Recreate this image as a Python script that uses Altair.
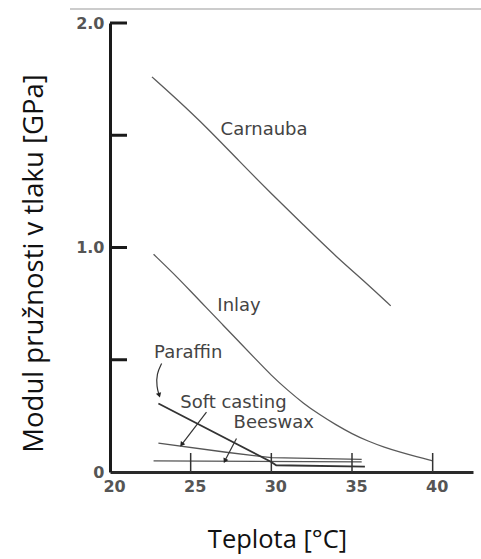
import altair as alt
import pandas as pd

# ---- data ----
carnauba_t = [22.6, 24, 26, 28, 30, 32, 34, 36, 37.4]
carnauba_v = [1.76, 1.67, 1.535, 1.385, 1.24, 1.10, 0.96, 0.835, 0.74]

inlay_t = [22.7, 24, 25, 26, 27, 28, 29, 30, 31, 32, 33, 34, 35, 36, 37, 38, 39, 40]
inlay_v = [0.97, 0.88, 0.805, 0.73, 0.655, 0.58, 0.505, 0.43, 0.365, 0.305,
           0.255, 0.21, 0.17, 0.137, 0.11, 0.088, 0.068, 0.05]

paraffin_t = [23.0, 30.0, 30.3, 35.8]
paraffin_v = [0.305, 0.045, 0.03, 0.024]

soft_t = [23.0, 27.2, 30.0, 35.6]
soft_v = [0.129, 0.088, 0.064, 0.056]

beeswax_t = [22.7, 35.6]
beeswax_v = [0.05, 0.045]

label_text = ["Carnauba", "Inlay", "Paraffin", "Soft casting", "Beeswax"]
label_t = [29.55, 28.0, 24.85, 27.65, 30.15]
label_v = [1.524, 0.740, 0.529, 0.306, 0.219]

arrow_id = ["p", "p", "p", "p", "s", "s", "b", "b"]
arrow_t = [23.2, 22.89, 22.89, 23.05, 25.98, 24.44, 27.84, 27.12]
arrow_v = [0.483, 0.438, 0.379, 0.342, 0.267, 0.122, 0.149, 0.05]

head_t = [23.05, 24.44, 27.12]
head_v = [0.342, 0.122, 0.05]
head_angle = [163, 217, 207]

x_tick_values = [25, 30, 35, 40]
y_tick_values = [0.5, 1.0, 1.5, 2.0]
x_label_values = [20, 25, 30, 35, 40]
y_label_values = [0, 1, 2]

W, H = 363, 449

xs = alt.Scale(domain=[20, 42.5], nice=False, zero=False)
ys = alt.Scale(domain=[0, 2.0], nice=False, zero=True)

xaxis = alt.Axis(
    values=x_label_values, ticks=False, grid=False, domainWidth=3, domainColor="#2a2a2a",
    labelFont="DejaVu Sans", labelFontSize=16, labelFontWeight="bold", labelColor="#555",
    labelPadding=6, labelOffset=4, labelFlush=False,
    title="Teplota [°C]", titleFont="Open Sans", titleFontSize=25.5, titleFontWeight="normal",
    titleColor="#111", titleX=167, titleY=75, titleBaseline="alphabetic", titleAlign="center",
)
yaxis = alt.Axis(
    values=y_label_values, ticks=False, grid=False, domainWidth=3, domainColor="#1a1a1a",
    labelFont="DejaVu Sans", labelFontSize=16, labelFontWeight="bold", labelColor="#555",
    labelPadding=6, labelFlush=False,
    labelExpr="datum.value == 0 ? '0' : format(datum.value, '.1f')",
    title="Modul pružnosti v tlaku [GPa]", titleFont="Open Sans", titleFontSize=27.5,
    titleFontWeight="normal", titleColor="#111", titleAngle=270, titleX=-68, titleY=240,
    titleBaseline="alphabetic", titleAlign="center",
)


def X(field="t"):
    return alt.X(f"{field}:Q", scale=xs, axis=xaxis)


def Y(field="v"):
    return alt.Y(f"{field}:Q", scale=ys, axis=yaxis)


def series(ts, vs):
    return pd.DataFrame({"t": ts, "v": vs})


layers = []
for ts, vs, col, sw, interp in [
    (carnauba_t, carnauba_v, "#5a5a5a", 1.3, "basis"),
    (inlay_t, inlay_v, "#5a5a5a", 1.3, "basis"),
    (soft_t, soft_v, "#555", 1.3, "linear"),
    (beeswax_t, beeswax_v, "#555", 1.3, "linear"),
    (paraffin_t, paraffin_v, "#333", 1.8, "linear"),
]:
    layers.append(
        alt.Chart(series(ts, vs)).mark_line(color=col, strokeWidth=sw, interpolate=interp)
        .encode(x=X(), y=Y(), order="t:Q")
    )

arrows = pd.DataFrame({"id": arrow_id, "t": arrow_t, "v": arrow_v, "o": list(range(len(arrow_t)))})
layers.append(
    alt.Chart(arrows).mark_line(color="#333", strokeWidth=1.2, interpolate="basis")
    .encode(x=X(), y=Y(), detail="id:N", order="o:Q")
)
heads = pd.DataFrame({"t": head_t, "v": head_v, "a": head_angle})
layers.append(
    alt.Chart(heads).mark_point(shape="triangle-up", filled=True, color="#222", size=30, opacity=1)
    .encode(x=X(), y=Y(), angle=alt.Angle("a:Q", scale=None))
)

labels = pd.DataFrame({"text": label_text, "t": label_t, "v": label_v})
layers.append(
    alt.Chart(labels).mark_text(font="DejaVu Sans", fontSize=18, color="#444",
                                align="center", baseline="middle")
    .encode(x=X(), y=Y(), text="text:N")
)

# inward tick marks
layers.append(
    alt.Chart(pd.DataFrame({"t": x_tick_values})).mark_rule(color="#333", strokeWidth=1.5)
    .encode(x=X(), y=alt.value(H), y2=alt.value(H - 19))
)
layers.append(
    alt.Chart(pd.DataFrame({"v": y_tick_values})).mark_rule(color="#1a1a1a", strokeWidth=3)
    .encode(y=Y(), x=alt.value(0), x2=alt.value(17))
)
# faint scan line at the top
layers.append(
    alt.Chart(pd.DataFrame({"k": [0]})).mark_rule(color="#bbbbbb", strokeWidth=1.5)
    .encode(x=alt.value(-40), x2=alt.value(371), y=alt.value(-14))
)

chart = (
    alt.layer(*layers)
    .properties(width=W, height=H, background="white",
                padding={"left": 110, "top": 23, "right": 8, "bottom": 87},
                autosize=alt.AutoSizeParams(type="none"))
    .configure_view(stroke=None)
)

chart.save("out.html", embed_options={"renderer": "svg", "actions": False})
